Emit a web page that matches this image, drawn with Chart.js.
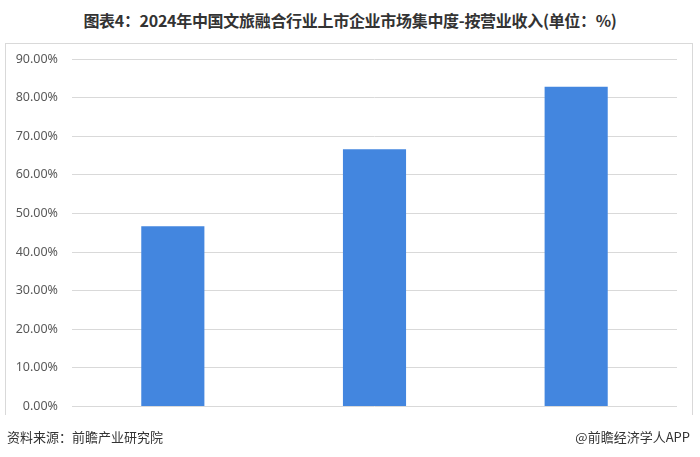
<!DOCTYPE html>
<html>
<head>
<meta charset="utf-8">
<script src="https://cdn.jsdelivr.net/npm/chart.js@4/dist/chart.umd.min.js"></script>
<style>
  html, body { margin: 0; padding: 0; background: #fff; }
  #wrap { position: relative; width: 700px; height: 457px; overflow: hidden; font-family: "Noto Sans CJK SC", "Noto Sans", sans-serif; }
  #title { position: absolute; left: 0; top: 8px; width: 700px; text-align: center; font-size: 16px; font-weight: bold; color: #333; line-height: 24px; letter-spacing: -0.3px; }
  #frame { position: absolute; left: 5px; top: 43px; width: 688px; height: 372px; border: 1px solid #d9d9d9; border-bottom: none; box-sizing: border-box; }
  #cv { position: absolute; left: 0; top: 0; }
  #src { position: absolute; left: 7px; top: 428px; font-size: 13px; color: #333; line-height: 18px; }
  #app { position: absolute; right: 10px; top: 428px; font-size: 13px; color: #333; line-height: 18px; }
</style>
</head>
<body>
<div id="wrap">
  <div id="title">图表4：2024年中国文旅融合行业上市企业市场集中度-按营业收入(单位：%)</div>
  <div id="frame"></div>
  <canvas id="cv" width="700" height="457"></canvas>
  <div id="src">资料来源：前瞻产业研究院</div>
  <div id="app">@前瞻经济学人APP</div>
</div>
<script>
const categories = ['', '', ''];
const values = [46.7, 66.6, 82.8];
const yTicks = [0, 10, 20, 30, 40, 50, 60, 70, 80, 90];

new Chart(document.getElementById('cv'), {
  type: 'bar',
  data: {
    labels: categories,
    datasets: [{
      data: values,
      backgroundColor: '#4386df',
      borderWidth: 0,
      categoryPercentage: 1,
      barPercentage: 0.313
    }]
  },
  options: {
    responsive: false,
    animation: false,
    events: [],
    layout: { padding: { left: 0, right: 23, top: 59, bottom: 50.5 } },
    plugins: { legend: { display: false }, tooltip: { enabled: false }, title: { display: false } },
    scales: {
      x: { display: false },
      y: {
        min: 0, max: 90,
        afterBuildTicks: s => { s.ticks = yTicks.map(v => ({ value: v })); },
        afterFit: s => { s.width = 72; },
        grid: { color: '#d9d9d9', lineWidth: 1, drawTicks: false },
        border: { display: false },
        ticks: {
          padding: 14,
          color: '#595959',
          font: { family: '"Noto Sans", "DejaVu Sans", sans-serif', size: 12.5 },
          callback: v => v.toFixed(2) + '%'
        }
      }
    }
  }
});
</script>
</body>
</html>
